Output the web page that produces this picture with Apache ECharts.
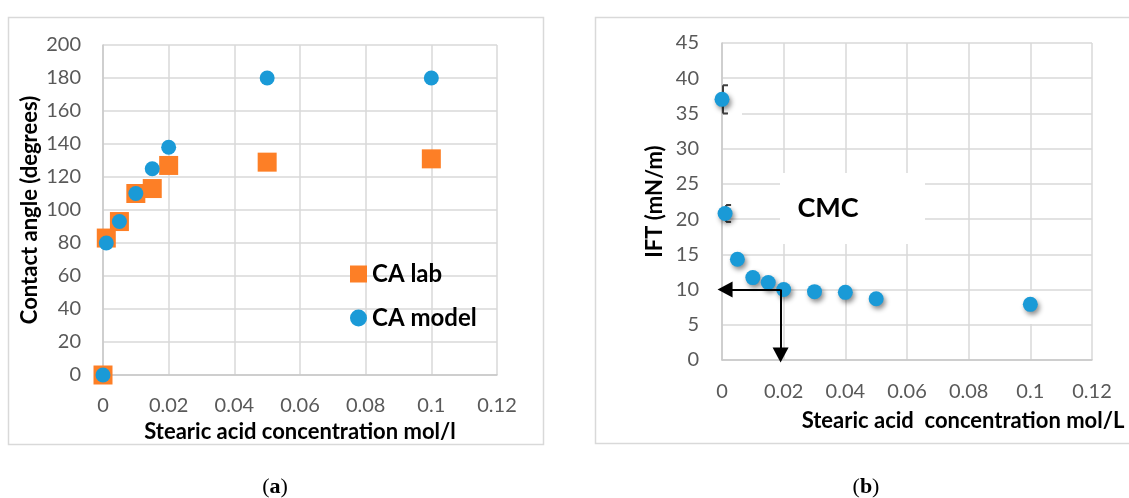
<!DOCTYPE html>
<html>
<head>
<meta charset="utf-8">
<script src="https://cdn.jsdelivr.net/npm/echarts@6/dist/echarts.min.js"></script>
<style>
    html, body { margin: 0; padding: 0; background: #fff; }
    #chart { width: 1129px; height: 498px; }
</style>
</head>
<body>
<div id="chart"></div>
<script>
    // (a) contact angle vs stearic acid concentration
    var caConc = [0, 0.001, 0.005, 0.01, 0.015, 0.02, 0.05, 0.1];
    var caLab = [0, 83, 93, 110, 113, 127, 129, 131];
    var caModel = [0, 80, 93, 110, 125, 138, 180, 180];

    // (b) IFT vs stearic acid concentration
    var iftConc = [0, 0.001, 0.005, 0.01, 0.015, 0.02, 0.03, 0.04, 0.05, 0.1];
    var iftVal = [37, 20.8, 14.3, 11.7, 11.0, 10.0, 9.7, 9.6, 8.7, 7.9];
    // error bars (only the first two points have them)
    var errConc = [0, 0.001];
    var errLow = [35, 19.6];
    var errHigh = [39, 22];

    // CMC marker
    var cmcConc = 0.019;
    var cmcIft = 10;

    function pairs(xs, ys) {
        var out = [];
        for (var i = 0; i < xs.length; i++) out.push([xs[i], ys[i]]);
        return out;
    }
    var errData = [];
    for (var i = 0; i < errConc.length; i++) errData.push([errConc[i], errLow[i], errHigh[i]]);

    var FONT = 'Lato';
    var tickLabel = { fontFamily: FONT, fontSize: 20, color: '#595959' };
    var titleStyle = { fontFamily: FONT, fontWeight: 'bold', fontSize: 22, color: '#000' };
    var gridLine = { show: true, lineStyle: { color: '#d9d9d9', width: 1.5 } };
    var axisLine = { show: true, lineStyle: { color: '#c8c8c8', width: 1.5 } };
    var ORANGE = '#fd7f26';
    var BLUE = '#1a9ad7';

    var myChart = echarts.init(document.getElementById('chart'));
    var option = {
        animation: false,
        backgroundColor: '#fff',
        grid: [
            { left: 103, top: 45, width: 394, height: 330 },
            { left: 722, top: 43, width: 370, height: 317 }
        ],
        xAxis: [
            {
                gridIndex: 0, type: 'value', min: 0, max: 0.12, interval: 0.02,
                axisLine: axisLine, axisTick: { show: false }, splitLine: gridLine,
                axisLabel: Object.assign({ margin: 21 }, tickLabel),
                name: 'Stearic acid concentration mol/l', nameLocation: 'middle', nameGap: 44,
                nameTextStyle: titleStyle
            },
            {
                gridIndex: 1, type: 'value', min: 0, max: 0.12, interval: 0.02,
                axisLine: axisLine, axisTick: { show: false }, splitLine: gridLine,
                axisLabel: Object.assign({ margin: 22 }, tickLabel)
            }
        ],
        yAxis: [
            {
                gridIndex: 0, type: 'value', min: 0, max: 200, interval: 20,
                axisLine: axisLine, axisTick: { show: false }, splitLine: gridLine,
                axisLabel: Object.assign({ margin: 22 }, tickLabel),
                name: 'Contact angle (degrees)', nameLocation: 'middle', nameGap: 62,
                nameTextStyle: titleStyle
            },
            {
                gridIndex: 1, type: 'value', min: 0, max: 45, interval: 5,
                axisLine: axisLine, axisTick: { show: false }, splitLine: gridLine,
                axisLabel: Object.assign({ margin: 23 }, tickLabel),
                name: 'IFT (mN/m)', nameLocation: 'middle', nameGap: 56,
                nameTextStyle: titleStyle
            }
        ],
        legend: {
            left: 345, top: 257, orient: 'vertical',
            itemWidth: 17, itemHeight: 17, itemGap: 20,
            data: [{ name: 'CA lab', icon: 'rect' }, { name: 'CA model', icon: 'circle' }],
            textStyle: { fontFamily: FONT, fontWeight: 'bold', fontSize: 24, color: '#000' }
        },
        graphic: [
            { type: 'rect', shape: { x: 8.5, y: 17.5, width: 535, height: 427 },
              style: { fill: 'none', stroke: '#d9d9d9', lineWidth: 1.5 }, silent: true },
            { type: 'rect', shape: { x: 595.5, y: 17.5, width: 600, height: 426 },
              style: { fill: 'none', stroke: '#d9d9d9', lineWidth: 1.5 }, silent: true },
            // CMC text box
            { type: 'rect', z: 1, shape: { x: 780, y: 173, width: 145, height: 71 },
              style: { fill: '#fff' }, silent: true },
            { type: 'text', z: 3, x: 828, y: 208,
              style: { text: 'CMC', fontFamily: FONT, fontWeight: 'bold', fontSize: 27, fill: '#000',
                       textAlign: 'center', textVerticalAlign: 'middle' } },
            // small white patches over the grid
            { type: 'rect', z: 1, shape: { x: 727, y: 109, width: 15, height: 7 },
              style: { fill: '#fff' }, silent: true },
            { type: 'rect', z: 1, shape: { x: 1008, y: 291, width: 44, height: 33 },
              style: { fill: '#fff' }, silent: true },
            { type: 'text', x: 963, y: 421,
              style: { text: 'Stearic acid  concentration mol/L', fontFamily: FONT, fontWeight: 'bold',
                       fontSize: 22, fill: '#000', textAlign: 'center', textVerticalAlign: 'middle' } },
            { type: 'text', x: 275, y: 487,
              style: { text: '{n|(}{b|a}{n|)}', textAlign: 'center', textVerticalAlign: 'middle',
                       rich: { n: { fontFamily: 'Liberation Serif', fontSize: 22, fill: '#000' },
                               b: { fontFamily: 'Liberation Serif', fontSize: 22, fontWeight: 'bold', fill: '#000' } } } },
            { type: 'text', x: 866, y: 487,
              style: { text: '{n|(}{b|b}{n|)}', textAlign: 'center', textVerticalAlign: 'middle',
                       rich: { n: { fontFamily: 'Liberation Serif', fontSize: 22, fill: '#000' },
                               b: { fontFamily: 'Liberation Serif', fontSize: 22, fontWeight: 'bold', fill: '#000' } } } }
        ],
        series: [
            {
                name: 'CA lab', type: 'scatter', xAxisIndex: 0, yAxisIndex: 0,
                symbol: 'rect', symbolSize: 19,
                itemStyle: { color: ORANGE, opacity: 1 },
                data: pairs(caConc, caLab)
            },
            {
                name: 'CA model', type: 'scatter', xAxisIndex: 0, yAxisIndex: 0,
                symbol: 'circle', symbolSize: 15,
                itemStyle: { color: BLUE, opacity: 1 },
                data: pairs(caConc, caModel)
            },
            {
                name: 'IFT error', type: 'custom', xAxisIndex: 1, yAxisIndex: 1,
                renderItem: function (params, api) {
                    var lo = api.coord([api.value(0), api.value(1)]);
                    var hi = api.coord([api.value(0), api.value(2)]);
                    var x = lo[0] + 1;
                    var st = { stroke: '#404040', lineWidth: 2 };
                    return {
                        type: 'group',
                        children: [
                            { type: 'line', shape: { x1: x, y1: lo[1], x2: x, y2: hi[1] }, style: st },
                            { type: 'line', shape: { x1: x, y1: lo[1], x2: x + 5, y2: lo[1] }, style: st },
                            { type: 'line', shape: { x1: x, y1: hi[1], x2: x + 5, y2: hi[1] }, style: st }
                        ]
                    };
                },
                data: errData
            },
            {
                name: 'IFT', type: 'scatter', xAxisIndex: 1, yAxisIndex: 1,
                symbol: 'circle', symbolSize: 15,
                itemStyle: { color: BLUE, opacity: 1, shadowBlur: 5, shadowColor: 'rgba(0,0,0,0.45)', shadowOffsetX: 2, shadowOffsetY: 3 },
                data: pairs(iftConc, iftVal),
                markLine: {
                    silent: true,
                    symbol: ['none', 'triangle'],
                    symbolSize: [16, 15],
                    label: { show: false },
                    lineStyle: { color: '#000', width: 2, type: 'solid' },
                    data: [
                        [{ coord: [cmcConc, cmcIft] }, { coord: [0.001, cmcIft] }],
                        [{ coord: [cmcConc, cmcIft] }, { coord: [cmcConc, 0.7] }]
                    ]
                }
            }
        ]
    };
    myChart.setOption(option);
</script>
</body>
</html>
